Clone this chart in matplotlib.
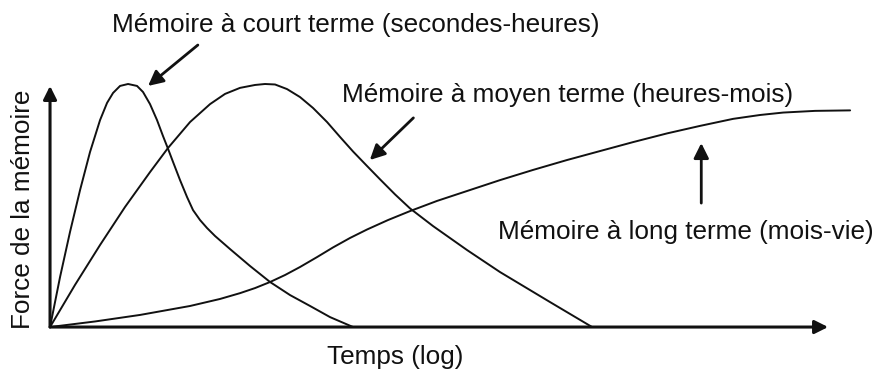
import matplotlib.pyplot as plt

plt.rcParams['font.family'] = ['Liberation Sans', 'DejaVu Sans']

# time (log, arbitrary units) and memory strength
short_t = [0, 1.29, 2.57, 3.86, 5.14, 6.43, 7.33, 8.10, 9.0, 10.03, 11.18, 11.95, 12.85, 13.75,
           14.52, 15.17, 15.81, 16.71, 17.61, 18.38, 19.28, 20.18, 21.21, 23.14, 25.71, 28.28,
           30.85, 33.42, 35.99, 38.95]
short_s = [0, 20.7, 39.3, 56.6, 72.3, 85.5, 92.6, 96.7, 99.6, 100.4, 99.6, 97.1, 92.1, 85.5,
           78.9, 73.6, 68.2, 60.7, 53.7, 48.3, 44.2, 40.9, 37.6, 32.2, 25.2, 18.6,
           13.2, 8.7, 4.1, 0]

mid_t = [0, 3.21, 6.43, 9.64, 12.85, 15.17, 18.0, 20.57, 22.49, 24.42, 26.35, 27.63, 28.92,
         30.46, 32.13, 33.80, 35.60, 37.28, 38.95, 40.75, 42.42, 44.34, 46.27, 49.23, 53.60,
         57.84, 64.27, 69.67]
mid_s = [0, 17.4, 33.9, 49.6, 64.0, 74.0, 84.7, 92.1, 96.3, 98.8, 100.0, 100.4, 100.2,
         98.3, 95.0, 90.5, 84.7, 78.5, 72.5, 66.5, 61.0, 54.8, 49.0, 41.7, 31.8,
         22.7, 10.3, 0]

long_t = [0, 5.78, 11.57, 18.0, 21.85, 24.42, 26.35, 28.28, 30.21, 32.13, 34.32, 36.38, 38.56,
          40.75, 43.44, 46.27, 49.74, 53.60, 57.84, 62.08, 66.45, 70.69, 74.94, 79.31, 83.55,
          87.79, 91.26, 94.22, 98.33, 102.83]
long_s = [0, 2.3, 5.0, 8.7, 11.6, 14.0, 16.1, 18.6, 21.5, 24.8, 28.9, 32.9, 36.8,
          40.3, 44.2, 47.9, 52.1, 56.2, 60.7, 64.9, 69.0, 72.7, 76.4, 80.0, 83.1,
          86.0, 87.6, 88.6, 89.3, 89.5]

labels = ["Mémoire à court terme (secondes-heures)",
          "Mémoire à moyen terme (heures-mois)",
          "Mémoire à long terme (mois-vie)"]

fig = plt.figure(figsize=(8.74, 3.74), dpi=100)
ax = fig.add_axes([0, 0, 1, 1])
ax.set_xlim(-6.43, 105.9)
ax.set_ylim(-19.4, 135.1)
ax.axis('off')

ink = '#111111'
fs = 18.8

# curves
for t, s in [(short_t, short_s), (mid_t, mid_s), (long_t, long_s)]:
    ax.plot(t, s, color=ink, lw=1.4, solid_capstyle='round', solid_joinstyle='round')

# axes with arrow heads
axis_style = dict(arrowstyle='-|>,head_length=0.8,head_width=0.4', lw=2.2, color=ink,
                  mutation_scale=10, shrinkA=0, shrinkB=0)
ax.annotate('', xy=(0, 99.6), xytext=(0, 0), arrowprops=axis_style)
ax.annotate('', xy=(100, 0), xytext=(0, 0), arrowprops=axis_style)

# pointers to the curves
ptr_style = dict(arrowstyle='-|>,head_length=0.9,head_width=0.45', lw=2.0, color=ink,
                 mutation_scale=10, shrinkA=0, shrinkB=0)
ax.annotate('', xy=(12.6, 99.6), xytext=(19.0, 116.5), arrowprops=ptr_style)
ax.annotate('', xy=(41.1, 69.0), xytext=(46.7, 86.4), arrowprops=ptr_style)
ax.annotate('', xy=(83.7, 76.0), xytext=(83.7, 51.2), arrowprops=ptr_style)

ax.text(8.0, 124.8, labels[0], fontsize=fs, color=ink, ha='left', va='center')
ax.text(37.5, 95.9, labels[1], fontsize=fs, color=ink, ha='left', va='center')
ax.text(57.6, 39.3, labels[2], fontsize=fs, color=ink, ha='left', va='center')

ax.text(-3.47, 48.8, "Force de la mémoire", fontsize=fs, color=ink,
        rotation=90, ha='center', va='center')
ax.text(44.3, -12.4, "Temps (log)", fontsize=fs, color=ink, ha='center', va='center')

plt.savefig('out.png', dpi=100, facecolor='white')
